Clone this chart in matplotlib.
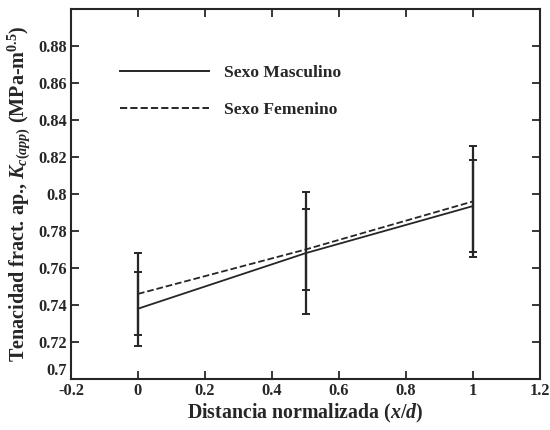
import numpy as np
import matplotlib
matplotlib.use("Agg")
import matplotlib.pyplot as plt
from matplotlib.ticker import FormatStrFormatter
from matplotlib.lines import Line2D

# data
dist = [0.0, 0.5, 1.0]
male_mean = [0.738, 0.768, 0.7935]
male_err = [0.020, 0.033, 0.025]
female_mean = [0.746, 0.770, 0.796]
female_err = [0.022, 0.022, 0.030]

x_ticks = [-0.2, 0, 0.2, 0.4, 0.6, 0.8, 1.0, 1.2]
y_ticks = [0.7, 0.72, 0.74, 0.76, 0.78, 0.8, 0.82, 0.84, 0.86, 0.88]

plt.rcParams["font.family"] = ["Liberation Serif", "DejaVu Serif"]
plt.rcParams["font.weight"] = "bold"
plt.rcParams["mathtext.fontset"] = "custom"
plt.rcParams["mathtext.rm"] = "Liberation Serif:bold"
plt.rcParams["mathtext.it"] = "Liberation Serif:italic:bold"
plt.rcParams["mathtext.bf"] = "Liberation Serif:bold"

ink = "#262626"

fig = plt.figure(figsize=(5.5, 4.3), dpi=100)
ax = fig.add_axes([0.129, 0.1186, 0.853, 0.8605])

ax.errorbar(dist, male_mean, yerr=male_err, color=ink, lw=1.3,
            ls="-", capsize=3, elinewidth=1.6, capthick=1.4,
            label="Sexo Masculino")
ax.errorbar(dist, female_mean, yerr=female_err, color=ink, lw=1.3,
            ls="--", capsize=3, elinewidth=1.6, capthick=1.4,
            label="Sexo Femenino")

ax.set_xlim(-0.2, 1.2)
ax.set_ylim(0.7, 0.9)
ax.set_xticks(x_ticks)
ax.set_yticks(y_ticks)
ax.xaxis.set_major_formatter(FormatStrFormatter("%g"))
ax.yaxis.set_major_formatter(FormatStrFormatter("%g"))
ax.tick_params(direction="in", top=True, right=True, length=6, width=1.3,
               labelsize=11.8, colors=ink, pad=3)
for s in ax.spines.values():
    s.set_linewidth(1.5)
    s.set_color(ink)

# the bottom y label sits just above the corner, as in the original
fig.canvas.draw()
ax.get_yticklabels()[0].set_verticalalignment("bottom")

ax.set_xlabel("Distancia normalizada ($x$/$d$)", fontsize=14.3,
              fontweight="bold", color=ink, labelpad=2)
ax.set_ylabel("Tenacidad fract. ap., $K_{c(app)}$ (MPa-m$^{0.5}$)",
              fontsize=14.5, fontweight="bold", color=ink, labelpad=4)

# legend: errorbar handles drawn as plain lines
handles = [Line2D([], [], color=ink, lw=1.4, ls="-"),
           Line2D([], [], color=ink, lw=1.4, ls="--")]
ax.legend(handles, ["Sexo Masculino", "Sexo Femenino"], loc="upper left",
          bbox_to_anchor=(0.104, 0.85), frameon=False, fontsize=12.6,
          handlelength=5.1, handletextpad=0.86, labelspacing=1.2,
          borderpad=0, borderaxespad=0, labelcolor=ink)

fig.savefig("out.png", dpi=100)
